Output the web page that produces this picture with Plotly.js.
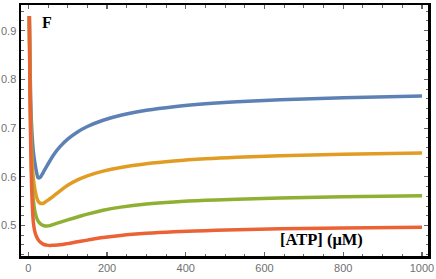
<!DOCTYPE html>
<html>
<head>
<meta charset="utf-8">
<script src="https://cdn.plot.ly/plotly-3.0.1.min.js"></script>
<style>html,body{margin:0;padding:0;background:#fff}#chart{width:436px;height:279px}</style>
</head>
<body>
<div id="chart"></div>
<script>
// [ATP] (µM)
const atp = [2.5, 4, 6, 8, 10, 13, 17, 21, 25, 30, 35, 40, 47, 55, 64, 80, 100, 125, 150, 190, 235, 300, 370, 450, 530, 640, 800, 1000];
const blueF = [0.93, 0.84, 0.76, 0.71, 0.68, 0.65, 0.627, 0.609, 0.598, 0.599, 0.605, 0.612, 0.622, 0.633, 0.645, 0.6616, 0.6775, 0.6922, 0.7033, 0.7162, 0.7264, 0.7365, 0.7439, 0.7498, 0.7541, 0.7583, 0.7626, 0.766];
const orangeF = [0.93, 0.82, 0.72, 0.66, 0.625, 0.595, 0.573, 0.558, 0.55, 0.546, 0.545, 0.5465, 0.5505, 0.555, 0.5605, 0.5707, 0.5826, 0.5937, 0.602, 0.6117, 0.6193, 0.6269, 0.6324, 0.6369, 0.6401, 0.6433, 0.6464, 0.649];
const greenF = [0.93, 0.81, 0.69, 0.62, 0.58, 0.55, 0.528, 0.516, 0.509, 0.504, 0.501, 0.4995, 0.499, 0.4998, 0.5025, 0.5065, 0.5115, 0.5175, 0.5235, 0.5315, 0.5378, 0.544, 0.5483, 0.5517, 0.5541, 0.5566, 0.559, 0.561];
const redF = [0.93, 0.80, 0.67, 0.59, 0.545, 0.505, 0.486, 0.477, 0.471, 0.466, 0.463, 0.461, 0.4597, 0.4592, 0.4595, 0.4603, 0.4628, 0.4665, 0.47, 0.4753, 0.4797, 0.484, 0.4871, 0.4895, 0.4912, 0.4932, 0.495, 0.4965];

const series = [
  {y: blueF, color: '#5E81B5'},
  {y: orangeF, color: '#E19C24'},
  {y: greenF, color: '#8FB032'},
  {y: redF, color: '#EB6235'}
];
const traces = series.map(s => ({
  x: atp, y: s.y, type: 'scatter', mode: 'lines',
  line: {color: s.color, width: 3.5, shape: 'spline', smoothing: 1},
  hoverinfo: 'skip'
}));

const axisCommon = {
  showline: true, linecolor: '#000', linewidth: 2.5, mirror: 'ticks',
  ticks: 'inside', ticklen: 4, tickwidth: 1.2, tickcolor: '#666',
  showgrid: false, zeroline: false,
  tickfont: {family: 'Liberation Sans, Arial, sans-serif', size: 11, color: '#707070'}
};

const layout = {
  width: 436, height: 279,
  margin: {l: 21, r: 8, t: 5, b: 23},
  paper_bgcolor: '#fff', plot_bgcolor: '#fff',
  showlegend: false,
  xaxis: Object.assign({}, axisCommon, {
    range: [-18.6, 1015.3], tickvals: [0, 200, 400, 600, 800, 1000],
    minor: {dtick: 50, tick0: 0, ticks: 'inside', ticklen: 2.5, tickcolor: '#666', tickwidth: 1}
  }),
  yaxis: Object.assign({}, axisCommon, {
    range: [0.4374, 0.9528], tickvals: [0.5, 0.6, 0.7, 0.8, 0.9],
    ticktext: ['0.5', '0.6', '0.7', '0.8', '0.9'],
    minor: {dtick: 0.02, tick0: 0, ticks: 'inside', ticklen: 2.5, tickcolor: '#666', tickwidth: 1}
  }),
  annotations: [
    {text: '<b>F</b>', xref: 'paper', yref: 'paper', x: 0.046, y: 0.932, xanchor: 'left', yanchor: 'middle',
     showarrow: false, font: {family: 'Liberation Serif, Times New Roman, serif', size: 16, color: '#000'}},
    {text: '<b>[ATP] (μM)</b>', xref: 'paper', yref: 'paper', x: 0.739, y: 0.065, xanchor: 'center', yanchor: 'middle',
     showarrow: false, font: {family: 'Liberation Serif, Times New Roman, serif', size: 16.5, color: '#000'}}
  ]
};

Plotly.newPlot('chart', traces, layout, {staticPlot: true, displayModeBar: false});
</script>
</body>
</html>
